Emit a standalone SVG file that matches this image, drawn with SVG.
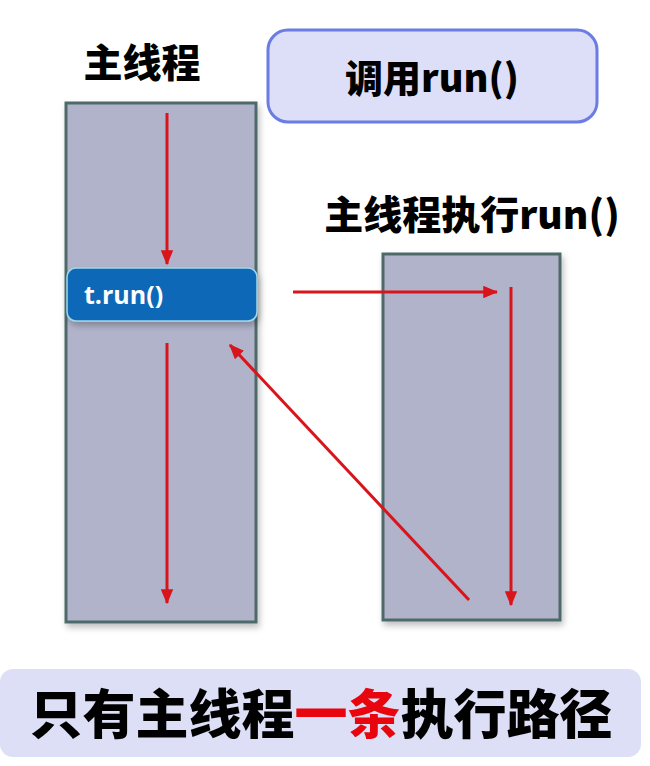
<svg xmlns="http://www.w3.org/2000/svg" width="650" height="766" viewBox="0 0 650 766">
<style>
.cjk{font-family:"Noto Sans CJK SC","Liberation Sans",sans-serif;font-weight:900;fill:#000}
.lane{fill:#b0b3ca;stroke:#4e6a6a;stroke-width:3}
.arr{stroke:#d9141b;stroke-width:3;fill:none;marker-end:url(#ah)}
</style>
<defs>
<marker id="ah" viewBox="0 0 12 10" refX="11" refY="5" markerWidth="5" markerHeight="4.2" orient="auto" markerUnits="strokeWidth">
<path d="M0,0 L12,5 L0,10 Z" fill="#d9141b"/>
</marker>
<filter id="sh" x="-10%" y="-10%" width="130%" height="130%">
<feDropShadow dx="2" dy="4" stdDeviation="3" flood-color="#000" flood-opacity="0.25"/>
</filter>
</defs>
<rect width="650" height="766" fill="#fff"/>
<g id="title-main"><text class="cjk" x="142" y="77" font-size="39" text-anchor="middle">主线程</text></g>
<g id="call-run">
<rect x="268" y="30" width="329" height="92" rx="20" fill="#dcdff7" stroke="#6b7de3" stroke-width="3"/>
<text class="cjk" x="432" y="92" font-size="38" text-anchor="middle">调用run()</text>
</g>
<g id="title-exec"><text class="cjk" x="472" y="229" font-size="39" text-anchor="middle">主线程执行run()</text></g>
<g id="main-lane"><rect class="lane" x="66" y="103" width="190" height="519" filter="url(#sh)"/></g>
<g id="run-lane"><rect class="lane" x="383" y="254" width="177" height="366" filter="url(#sh)"/></g>
<g id="t-run">
<rect x="67" y="268" width="190" height="53" rx="9" fill="#0b69b7" stroke="#9fd8ea" stroke-width="1.5" filter="url(#sh)"/>
<text x="84" y="304" font-family="Open Sans,Liberation Sans,sans-serif" font-weight="bold" font-size="25" fill="#fff">t.run()</text>
</g>
<g id="connectors">
<line class="arr" x1="167" y1="113" x2="167" y2="264"/>
<line class="arr" x1="167" y1="343" x2="167" y2="603"/>
<line class="arr" x1="293" y1="292" x2="497" y2="292"/>
<line class="arr" x1="511" y1="287" x2="511" y2="605"/>
<line class="arr" x1="469" y1="600" x2="230" y2="345"/>
</g>
<g id="banner">
<rect x="0" y="669" width="641" height="88" rx="13" fill="#dcdff5"/>
<text class="cjk" x="321" y="734" font-size="53" text-anchor="middle">只有主线程<tspan fill="#e8050d">一条</tspan>执行路径</text>
</g>
</svg>
